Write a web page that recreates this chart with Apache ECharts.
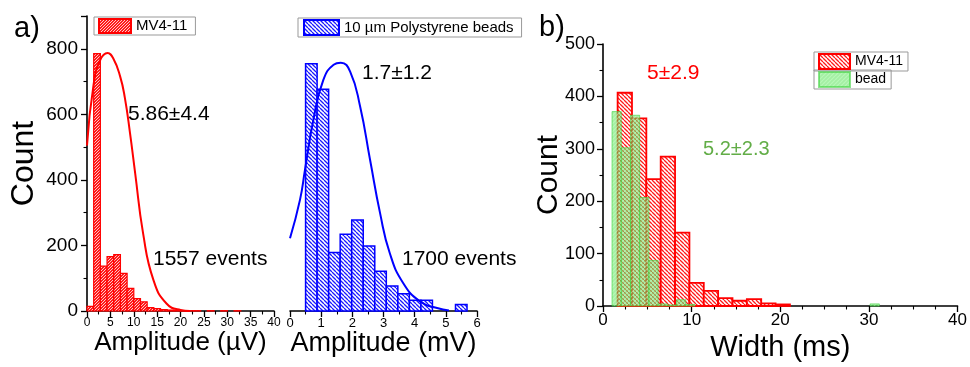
<!DOCTYPE html>
<html>
<head>
<meta charset="utf-8">
<script src="https://cdn.jsdelivr.net/npm/echarts@6/dist/echarts.min.js"></script>
<style>
html, body { margin: 0; padding: 0; background: #fff; }
#chart { width: 970px; height: 367px; }
</style>
</head>
<body>
<div id="chart"></div>
<script>
// a) left: MV4-11 amplitude (uV)
var mvAmpEdges = [0, 1.43, 2.86, 4.29, 5.72, 7.15, 8.58, 10.01, 11.44, 12.87, 14.3, 15.73,
                  17.16, 18.59, 20.02, 21.45, 22.88, 24.31, 25.74, 27.17, 28.6, 30.03, 31.46, 32.89];
var mvAmpCounts = [14, 785, 137, 166, 172, 115, 69, 38, 28, 10, 7, 4,
                   3, 2, 1, 1, 1, 0, 1, 0, 1, 0, 1];
var mvFitX = [0, 1.4, 2.8, 4.4, 5.6, 7.1, 8.1, 9.2, 10.3, 12, 14.2, 17, 20, 22];
var mvFitY = [505, 690, 765, 787, 771, 715, 650, 543, 421, 237, 95, 23, 3, 0];

// a) middle: polystyrene beads amplitude (mV)
var beadAmpEdges = [0.5, 0.87, 1.24, 1.61, 1.98, 2.35, 2.72, 3.09, 3.46, 3.83, 4.2, 4.57, 4.94, 5.31, 5.68];
var beadAmpCounts = [503, 451, 119, 156, 185, 132, 81, 51, 35, 22, 22, 0, 0, 13];
var beadFitX = [0, 0.32, 0.48, 0.75, 1.07, 1.4, 1.63, 1.93, 2.25, 2.57, 2.89, 3.2, 3.63, 4.18, 4.72, 5.1];
var beadFitY = [148, 226, 287, 389, 470, 501, 505, 487, 416, 307, 199, 118, 57, 19, 6, 1];

// b) width (ms)
var mvWidthEdges = [1.65, 3.27, 4.89, 6.51, 8.13, 9.75, 11.37, 12.99, 14.61, 16.23, 17.85, 19.47, 21.09];
var mvWidthCounts = [407, 358, 242, 285, 140, 44, 29, 15, 10, 13, 5, 3];
var beadWidthEdges = [1.02, 2.06, 3.1, 4.14, 5.18, 6.22, 7.26, 8.3, 9.34, 10.38, 11.42, 12.46, 13.5, 14.54,
                      15.58, 16.62, 17.66, 18.7, 19.74, 20.78, 21.82, 22.86, 23.9, 24.94, 25.98, 27.02,
                      28.06, 29.1, 30.14, 31.18];
var beadWidthCounts = [371, 302, 364, 207, 87, 4, 2, 12, 3, 0, 0, 0, 0, 0,
                       0, 0, 0, 0, 0, 0, 0, 0, 0, 0, 0, 0, 0, 0, 4];

var FONT = "'Liberation Sans', Arial, sans-serif";

function makeHatch(bg, fg, size, lw, dir) {
    var c = document.createElement('canvas');
    c.width = size;
    c.height = size;
    var ctx = c.getContext('2d');
    if (bg) {
        ctx.fillStyle = bg;
        ctx.fillRect(0, 0, size, size);
    }
    ctx.strokeStyle = fg;
    ctx.lineWidth = lw;
    ctx.beginPath();
    for (var k = -1; k <= 1; k++) {
        if (dir > 0) {
            ctx.moveTo(k * size, size);
            ctx.lineTo(k * size + size, 0);
        } else {
            ctx.moveTo(k * size, 0);
            ctx.lineTo(k * size + size, size);
        }
    }
    ctx.stroke();
    return {image: c, repeat: 'repeat'};
}

var redSolidHatch = makeHatch('#ff1a1a', 'rgba(255,255,255,0.85)', 3, 0.9, 1);
var blueHatch = makeHatch('#ffffff', '#1a1aff', 4, 1.3, -1);
var redHatch = makeHatch('#ffffff', '#ff1a1a', 4, 1.3, -1);
var greenHatch = makeHatch('rgba(90,225,90,0.55)', 'rgba(200,255,200,0.55)', 4, 1.2, 1);

function histData(edges, counts) {
    var out = [];
    for (var i = 0; i < counts.length; i++) {
        out.push([edges[i], edges[i + 1], counts[i]]);
    }
    return out;
}

function pairs(xs, ys) {
    var out = [];
    for (var i = 0; i < xs.length; i++) {
        out.push([xs[i], ys[i]]);
    }
    return out;
}

function histRenderer(fill, stroke, lw) {
    return function (params, api) {
        var count = api.value(2);
        if (!count) {
            return null;
        }
        var topLeft = api.coord([api.value(0), count]);
        var bottomRight = api.coord([api.value(1), 0]);
        return {
            type: 'rect',
            shape: {
                x: topLeft[0],
                y: topLeft[1],
                width: bottomRight[0] - topLeft[0],
                height: bottomRight[1] - topLeft[1]
            },
            style: {fill: fill, stroke: stroke, lineWidth: lw}
        };
    };
}

function valueAxis(opts) {
    var axis = {
        type: 'value',
        splitLine: {show: false},
        axisLine: {show: true, onZero: false, lineStyle: {color: '#000', width: 1.6}},
        axisTick: {show: true, inside: false, length: 6, lineStyle: {color: '#000', width: 1.3}},
        minorTick: {show: true, splitNumber: 2, length: 3.5, lineStyle: {color: '#000', width: 1.1}},
        axisLabel: {color: '#000', fontFamily: FONT, fontSize: 13, margin: 7},
        nameLocation: 'middle',
        nameMoveOverlap: false,
        nameTextStyle: {color: '#000', fontFamily: FONT}
    };
    for (var k in opts) {
        axis[k] = opts[k];
    }
    return axis;
}

function legendBox(name, left, top, iconW, iconH, padding, fontSize, fmt) {
    var lg = {
        data: [name],
        left: left,
        top: top,
        orient: 'vertical',
        icon: 'rect',
        itemWidth: iconW,
        itemHeight: iconH,
        padding: padding,
        borderColor: '#999',
        borderWidth: 1,
        selectedMode: false,
        textStyle: {color: '#000', fontFamily: FONT, fontSize: fontSize}
    };
    if (fmt) {
        lg.formatter = fmt;
    }
    return lg;
}

var chart = echarts.init(document.getElementById('chart'), null, {renderer: 'canvas'});

var option = {
    animation: false,
    backgroundColor: '#fff',
    textStyle: {fontFamily: FONT},
    grid: [
        {left: 87, top: 16, width: 187, height: 295},
        {left: 290, top: 16, width: 187, height: 295},
        {left: 603, top: 44, width: 355, height: 272}
    ],
    legend: [
        legendBox('MV4-11', 94, 17, 32, 14, [1, 8, 1, 4], 15),
        legendBox('10 \u00b5m Polystyrene beads', 298, 18, 35, 15, [1, 8, 1, 5], 15),
        legendBox('MV4-11 width', 814, 52, 31, 15, [1, 5, 1, 4], 14, function () { return 'MV4-11'; }),
        legendBox('bead', 814, 70, 31, 15, [1, 5, 1, 4], 14)
    ],
    xAxis: [
        valueAxis({gridIndex: 0, min: 0, max: 40, interval: 5,
                   name: 'Amplitude (\u00b5V)', nameGap: 19,
                   nameTextStyle: {color: '#000', fontFamily: FONT, fontSize: 26},
                   axisLabel: {color: '#000', fontFamily: FONT, fontSize: 12, margin: 6}}),
        valueAxis({gridIndex: 1, min: 0, max: 6, interval: 1,
                   name: 'Amplitude (mV)', nameGap: 19,
                   nameTextStyle: {color: '#000', fontFamily: FONT, fontSize: 27},
                   axisLabel: {color: '#000', fontFamily: FONT, fontSize: 13, margin: 6}}),
        valueAxis({gridIndex: 2, min: 0, max: 40, interval: 10,
                   name: 'Width (ms)', nameGap: 27,
                   minorTick: {show: true, splitNumber: 4, length: 3.5, lineStyle: {color: '#000', width: 1.1}},
                   nameTextStyle: {color: '#000', fontFamily: FONT, fontSize: 29},
                   axisLabel: {color: '#000', fontFamily: FONT, fontSize: 17, margin: 6}})
    ],
    yAxis: [
        valueAxis({gridIndex: 0, min: 0, max: 900, interval: 200,
                   name: 'Count', nameGap: 47, nameRotate: 90,
                   nameTextStyle: {color: '#000', fontFamily: FONT, fontSize: 32},
                   axisLabel: {color: '#000', fontFamily: FONT, fontSize: 19, margin: 9, showMaxLabel: false}}),
        {type: 'value', gridIndex: 1, min: 0, max: 600, show: false, splitLine: {show: false}},
        valueAxis({gridIndex: 2, min: 0, max: 500, interval: 100,
                   name: 'Count', nameGap: 39, nameRotate: 90,
                   nameTextStyle: {color: '#000', fontFamily: FONT, fontSize: 30},
                   axisLabel: {color: '#000', fontFamily: FONT, fontSize: 18, margin: 8}})
    ],
    series: [
        {
            name: 'MV4-11',
            type: 'custom',
            xAxisIndex: 0,
            yAxisIndex: 0,
            renderItem: histRenderer(redSolidHatch, '#ff0000', 1.2),
            itemStyle: {color: redSolidHatch, borderColor: '#ff0000', borderWidth: 1.2},
            encode: {x: [0, 1], y: 2},
            data: histData(mvAmpEdges, mvAmpCounts)
        },
        {
            name: 'MV4-11 fit',
            type: 'line',
            xAxisIndex: 0,
            yAxisIndex: 0,
            smooth: true,
            showSymbol: false,
            lineStyle: {color: '#ff0000', width: 2},
            itemStyle: {color: '#ff0000'},
            data: pairs(mvFitX, mvFitY)
        },
        {
            name: '10 \u00b5m Polystyrene beads',
            type: 'custom',
            xAxisIndex: 1,
            yAxisIndex: 1,
            renderItem: histRenderer(blueHatch, '#0000ff', 1.5),
            itemStyle: {color: blueHatch, borderColor: '#0000ff', borderWidth: 1.5},
            encode: {x: [0, 1], y: 2},
            data: histData(beadAmpEdges, beadAmpCounts)
        },
        {
            name: 'bead fit',
            type: 'line',
            xAxisIndex: 1,
            yAxisIndex: 1,
            smooth: true,
            showSymbol: false,
            lineStyle: {color: '#0000ff', width: 2},
            itemStyle: {color: '#0000ff'},
            data: pairs(beadFitX, beadFitY)
        },
        {
            name: 'MV4-11 width',
            type: 'custom',
            xAxisIndex: 2,
            yAxisIndex: 2,
            renderItem: histRenderer(redHatch, '#ff0000', 1.8),
            itemStyle: {color: redHatch, borderColor: '#ff0000', borderWidth: 1.8},
            encode: {x: [0, 1], y: 2},
            data: histData(mvWidthEdges, mvWidthCounts)
        },
        {
            name: 'bead',
            type: 'custom',
            xAxisIndex: 2,
            yAxisIndex: 2,
            renderItem: histRenderer(greenHatch, 'rgba(60,210,60,0.6)', 1),
            itemStyle: {color: greenHatch, borderColor: 'rgba(60,210,60,0.6)', borderWidth: 1},
            encode: {x: [0, 1], y: 2},
            data: histData(beadWidthEdges, beadWidthCounts)
        }
    ],
    graphic: [
        {type: 'text', left: 14, top: 14, style: {text: 'a)', font: '29px ' + FONT, fill: '#000'}},
        {type: 'text', left: 539, top: 13, style: {text: 'b)', font: '29px ' + FONT, fill: '#000'}},
        {type: 'text', left: 128, top: 104, style: {text: '5.86\u00b14.4', font: '21px ' + FONT, fill: '#000'}},
        {type: 'text', left: 153, top: 249, style: {text: '1557 events', font: '21px ' + FONT, fill: '#000'}},
        {type: 'text', left: 362, top: 63, style: {text: '1.7\u00b11.2', font: '21px ' + FONT, fill: '#000'}},
        {type: 'text', left: 402, top: 249, style: {text: '1700 events', font: '21px ' + FONT, fill: '#000'}},
        {type: 'text', left: 647, top: 63, style: {text: '5\u00b12.9', font: '21px ' + FONT, fill: '#ff0000'}},
        {type: 'text', left: 703, top: 139, style: {text: '5.2\u00b12.3', font: '20px ' + FONT, fill: '#62ad47'}}
    ]
};

chart.setOption(option);
</script>
</body>
</html>
